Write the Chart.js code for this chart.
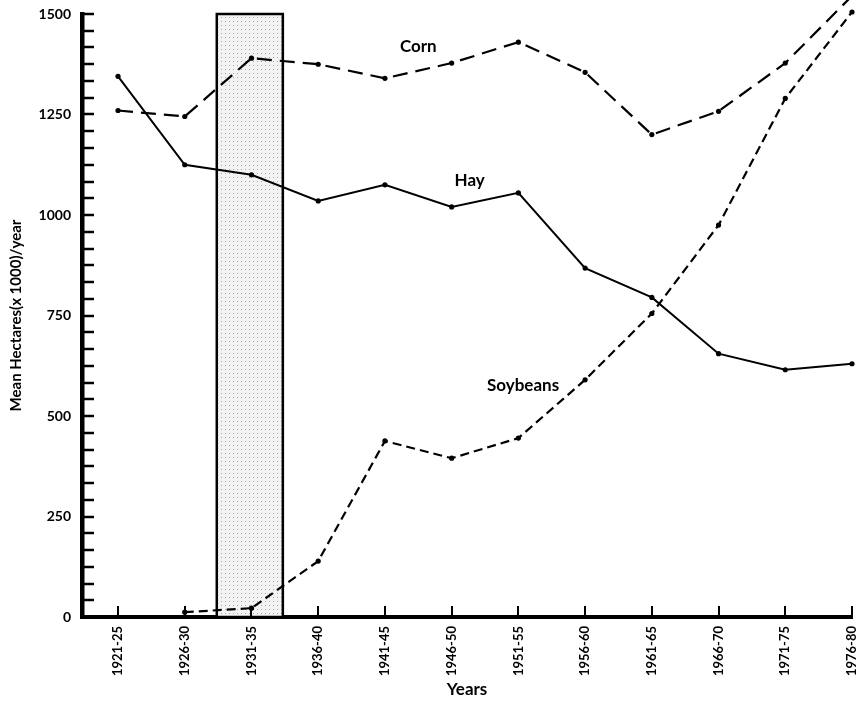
<!DOCTYPE html>
<html>
<head>
<meta charset="utf-8">
<script src="https://cdn.jsdelivr.net/npm/chart.js@4"></script>
<style>
  body { margin: 0; background: #fff; }
  #wrap { width: 864px; height: 702px; position: relative; }
</style>
</head>
<body>
<div id="wrap"><canvas id="cropChart"></canvas></div>
<script>
const periods = ['1921-25', '1926-30', '1931-35', '1936-40', '1941-45', '1946-50',
                 '1951-55', '1956-60', '1961-65', '1966-70', '1971-75', '1976-80'];
const corn = [1260, 1245, 1390, 1375, 1340, 1378, 1430, 1355, 1200, 1258, 1378, 1545];
const hay = [1345, 1125, 1100, 1035, 1075, 1020, 1055, 868, 795, 655, 615, 630];
const soybeans = [null, 12, 22, 139, 438, 395, 445, 590, 755, 975, 1290, 1505];
const yTickLabels = [0, 250, 500, 750, 1000, 1250, 1500];
const minorPerStep = 6;
const droughtSpan = [1.48, 2.47];

const toPoints = arr => arr.map((v, i) => ({ x: i, y: v }));

// dotted fill for the shaded period
const dots = document.createElement('canvas');
dots.width = 4; dots.height = 4;
const dctx = dots.getContext('2d');
dctx.fillStyle = '#f3f3f3';
dctx.fillRect(0, 0, 4, 4);
dctx.fillStyle = '#a8a8a8';
dctx.fillRect(1, 1, 1, 1);

const FONT = 'Lato, "Open Sans", sans-serif';

const paper = {
  id: 'paper',
  beforeDatasetsDraw(chart) {
    const { ctx, scales: { x, y } } = chart;
    const l = x.getPixelForValue(droughtSpan[0]);
    const r = x.getPixelForValue(droughtSpan[1]);
    const t = y.getPixelForValue(1500);
    const b = y.getPixelForValue(0);
    ctx.save();
    ctx.fillStyle = ctx.createPattern(dots, 'repeat');
    ctx.fillRect(l, t, r - l, b - t);
    ctx.lineWidth = 2.5;
    ctx.strokeStyle = '#000';
    ctx.strokeRect(l, t, r - l, b - t);
    ctx.restore();
  },
  afterDatasetsDraw(chart) {
    const { ctx, scales: { x, y } } = chart;
    ctx.save();
    ctx.strokeStyle = '#000';
    // inward ticks on y
    ctx.lineWidth = 2.5;
    y.ticks.forEach(t => {
      const py = Math.round(y.getPixelForValue(t.value));
      ctx.beginPath();
      ctx.moveTo(x.left, py);
      ctx.lineTo(x.left + 12, py);
      ctx.stroke();
    });
    // inward ticks on x
    ctx.lineWidth = 2;
    x.ticks.forEach(t => {
      const px = Math.round(x.getPixelForValue(t.value));
      ctx.beginPath();
      ctx.moveTo(px, y.bottom);
      ctx.lineTo(px, y.bottom - 11);
      ctx.stroke();
    });
    // series names
    ctx.fillStyle = '#000';
    ctx.font = 'bold 17px ' + FONT;
    ctx.textAlign = 'center';
    ctx.textBaseline = 'middle';
    [['Corn', 4.5, 1418], ['Hay', 5.27, 1085], ['Soybeans', 6.07, 577]].forEach(([txt, xv, yv]) => {
      ctx.fillText(txt, x.getPixelForValue(xv), y.getPixelForValue(yv));
    });
    ctx.restore();
  }
};

const lineBase = {
  borderColor: '#000',
  borderWidth: 2.2,
  pointRadius: 2.6,
  pointBackgroundColor: '#000',
  pointBorderWidth: 0,
  tension: 0,
  clip: false,
  spanGaps: false
};

new Chart(document.getElementById('cropChart'), {
  type: 'line',
  data: {
    datasets: [
      { ...lineBase, label: 'Corn', data: toPoints(corn), borderDash: [15, 8] },
      { ...lineBase, label: 'Hay', data: toPoints(hay), borderWidth: 2 },
      { ...lineBase, label: 'Soybeans', data: toPoints(soybeans), borderDash: [9, 5] }
    ]
  },
  plugins: [paper],
  options: {
    responsive: true,
    maintainAspectRatio: false,
    animation: false,
    layout: { padding: { top: 14, right: 12, left: 0, bottom: 0 } },
    plugins: { legend: { display: false }, tooltip: { enabled: false } },
    scales: {
      x: {
        type: 'linear',
        min: -0.54,
        max: periods.length - 1,
        afterBuildTicks: s => { s.ticks = periods.map((_, i) => ({ value: i })); },
        afterFit: s => { s.height = 85; s.paddingLeft = 0; s.paddingRight = 0; },
        grid: { display: true, drawOnChartArea: false, drawTicks: false, color: 'rgba(0,0,0,0)' },
        border: { display: true, color: '#000', width: 4 },
        ticks: {
          autoSkip: false,
          minRotation: 90,
          maxRotation: 90,
          padding: 9,
          color: '#000',
          font: { family: FONT, size: 13, weight: 'bold' },
          callback: v => periods[v]
        },
        title: {
          display: true,
          text: 'Years',
          color: '#000',
          padding: { top: 0, bottom: 2 },
          font: { family: FONT, size: 17, weight: 'bold' }
        }
      },
      y: {
        min: 0,
        max: 1500,
        afterBuildTicks: s => {
          const ticks = [];
          for (let k = 0; k < yTickLabels.length - 1; k++) {
            const a = yTickLabels[k], b = yTickLabels[k + 1];
            for (let m = 0; m < minorPerStep; m++) ticks.push({ value: a + (b - a) * m / minorPerStep });
          }
          ticks.push({ value: yTickLabels[yTickLabels.length - 1] });
          s.ticks = ticks;
        },
        afterFit: s => { s.width = 82; s.paddingTop = 0; s.paddingBottom = 0; },
        grid: { display: true, drawOnChartArea: false, drawTicks: false, color: 'rgba(0,0,0,0)' },
        border: { display: true, color: '#000', width: 4.5 },
        ticks: {
          autoSkip: false,
          padding: 11,
          color: '#000',
          font: { family: FONT, size: 14, weight: 'bold' },
          callback: (v, i) => (i % minorPerStep === 0 ? Math.round(v) : '')
        },
        title: {
          display: true,
          text: 'Mean Hectares(x 1000)/year',
          color: '#000',
          padding: { top: 7, bottom: 0 },
          font: { family: FONT, size: 15, weight: 'bold' }
        }
      }
    }
  }
});
</script>
</body>
</html>
